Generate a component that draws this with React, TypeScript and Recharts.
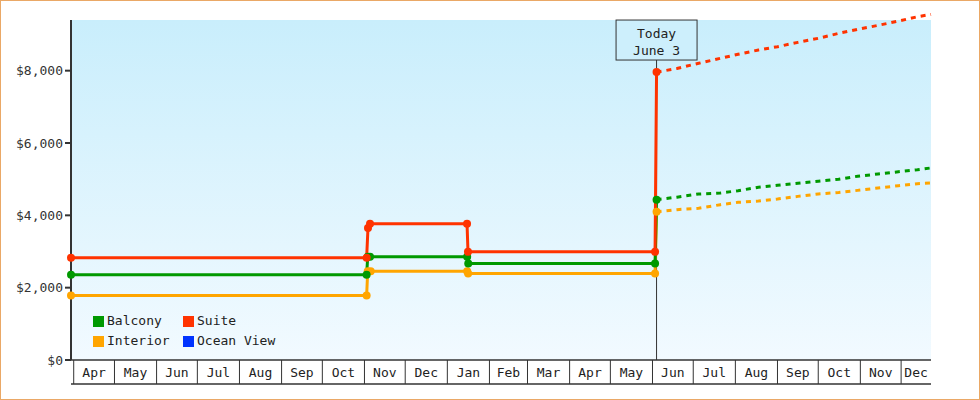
import React from 'react';
import { LineChart, Line, XAxis, YAxis, ReferenceLine, ReferenceArea, Legend } from 'recharts';

// ---- categories / axis data ----
const monthLabels = ['Apr', 'May', 'Jun', 'Jul', 'Aug', 'Sep', 'Oct', 'Nov', 'Dec', 'Jan', 'Feb', 'Mar', 'Apr', 'May', 'Jun', 'Jul', 'Aug', 'Sep', 'Oct', 'Nov', 'Dec'];
// day offsets (from Apr 1 of first year) at which each month starts
const monthStartDays = [0, 30, 61, 91, 122, 153, 183, 214, 244, 275, 306, 334, 365, 395, 426, 456, 487, 518, 548, 579, 609];
const axisStartDay = -2;
const axisEndDay = 631;
const todayDay = 429;
const todayText = ['Today', 'June 3'];
const yTicks = [0, 2000, 4000, 6000, 8000];
const plotTopValue = 9400; // top of shaded plot box
const yDomainMax = 9600; // room above the box for the projected suite line

// ---- historical prices (solid) ----
const balconyDays = [-2, 215.6, 216.4, 218.1, 289.6, 290.4, 427.9, 429];
const balconyPrices = [2355, 2355, 2852, 2852, 2852, 2665, 2665, 4433];
const interiorDays = [-2, 215.6, 216.4, 218.6, 289.6, 290.3, 427.9, 429];
const interiorPrices = [1785, 1785, 2455, 2455, 2455, 2392, 2390, 4100];
const suiteDays = [-2, 215.6, 216.6, 218.1, 289.5, 290.2, 427.9, 429];
const suitePrices = [2825, 2825, 3650, 3770, 3770, 2990, 2990, 7960];

// ---- projected prices (dashed) ----
const projDays = [429, 444, 460, 476, 489, 504, 518, 533, 548, 563, 577, 592, 607, 621, 631];
const suiteProj = [7960, 8060, 8204, 8342, 8452, 8571, 8662, 8783, 8894, 9031, 9142, 9252, 9371, 9490, 9556];
const balconyProj = [4433, 4502, 4590, 4618, 4680, 4778, 4833, 4888, 4943, 4998, 5081, 5142, 5205, 5261, 5310];
const interiorProj = [4100, 4157, 4195, 4295, 4359, 4397, 4452, 4524, 4590, 4634, 4690, 4756, 4819, 4874, 4893];

// ---- series styling ----
const COLORS = {
  balcony: '#009900',
  interior: '#ffa500',
  suite: '#ff3300',
  oceanView: '#0033ff',
};
const legendOrder = ['Balcony', 'Suite', 'Interior', 'Ocean View'];
const MONO = '"DejaVu Sans Mono", "Liberation Mono", monospace';

const tables: [string, number[], number[]][] = [
  ['balcony', balconyDays, balconyPrices],
  ['interior', interiorDays, interiorPrices],
  ['suite', suiteDays, suitePrices],
  ['suiteProj', projDays, suiteProj],
  ['balconyProj', projDays, balconyProj],
  ['interiorProj', projDays, interiorProj],
];
const rowMap = new Map<number, any>();
tables.forEach(([key, days, vals]) => {
  days.forEach((d, i) => {
    const r = rowMap.get(d) ?? { day: d };
    r[key] = vals[i];
    rowMap.set(d, r);
  });
});
const chartData = Array.from(rowMap.values()).sort((a, b) => a.day - b.day);

const monthBounds = [...monthStartDays, axisEndDay];
const monthMidDays = monthStartDays.map((d, i) => (d + monthBounds[i + 1]) / 2);

const fmtMoney = (v: number) => '$' + v.toLocaleString('en-US');

const MonthLabelTick = (props: any) => {
  const { x, y, payload } = props;
  const idx = monthMidDays.indexOf(payload.value);
  return (
    <text x={x} y={y - 7} textAnchor="middle" fill="#222" fontSize={13} fontFamily={MONO}>
      {monthLabels[idx] ?? ''}
    </text>
  );
};

const EmptyTick = () => <g />;

const TodayLabel = (props: any) => {
  const vb = props.viewBox || {};
  const cx = vb.x;
  const top = vb.y;
  return (
    <g>
      <rect x={cx - 40.5} y={top} width={81} height={40} fill="#cdeffc" stroke="#333" strokeWidth={1} />
      <text x={cx} y={top + 17.5} textAnchor="middle" fill="#222" fontSize={13} fontFamily={MONO}>
        {todayText[0]}
      </text>
      <text x={cx} y={top + 34.5} textAnchor="middle" fill="#222" fontSize={13} fontFamily={MONO}>
        {todayText[1]}
      </text>
    </g>
  );
};

const LegendContent = (props: any) => {
  const items = (props.payload || [])
    .filter((a: any) => legendOrder.includes(a.value))
    .sort((a: any, b: any) => legendOrder.indexOf(a.value) - legendOrder.indexOf(b.value));
  return (
    <div style={{ display: 'grid', gridTemplateColumns: '90px 120px' }}>
      {items.map((it: any) => (
        <div key={it.value} style={{ display: 'flex', alignItems: 'center', height: 20 }}>
          <span style={{ display: 'inline-block', width: 11, height: 11, background: it.color, marginRight: 3 }} />
          <span style={{ fontFamily: MONO, fontSize: 13, color: '#222', lineHeight: '20px', whiteSpace: 'nowrap' }}>{it.value}</span>
        </div>
      ))}
    </div>
  );
};

const dotStyle = (color: string) => ({ r: 4, fill: color, stroke: 'none' });

export default function App() {
  return (
    <div style={{ position: 'absolute', left: 0, top: 0, width: 980, height: 400, background: '#fff' }}>
      <LineChart
        width={980}
        height={400}
        data={chartData}
        margin={{ top: 12.8, right: 49, bottom: 0, left: 0 }}
      >
        <defs>
          <linearGradient id="plotBg" x1="0" y1="0" x2="0" y2="1">
            <stop offset="0%" stopColor="#c9eefc" />
            <stop offset="100%" stopColor="#f2faff" />
          </linearGradient>
        </defs>
        <XAxis
          type="number"
          dataKey="day"
          domain={[axisStartDay, axisEndDay]}
          ticks={monthStartDays}
          interval={0}
          height={24}
          tickSize={24}
          tick={EmptyTick}
          tickLine={{ stroke: '#333', strokeWidth: 1 }}
          axisLine={{ stroke: '#333', strokeWidth: 1.5 }}
        />
        <XAxis
          xAxisId="lbl"
          type="number"
          dataKey="day"
          domain={[axisStartDay, axisEndDay]}
          allowDataOverflow
          ticks={monthMidDays}
          interval={0}
          height={16}
          tickSize={0}
          tickMargin={0}
          tickLine={false}
          tick={MonthLabelTick}
          axisLine={{ stroke: '#333', strokeWidth: 1.5 }}
        />
        <YAxis
          type="number"
          domain={[0, yDomainMax]}
          ticks={yTicks}
          interval={0}
          width={71}
          tickSize={6}
          tickMargin={2}
          axisLine={false}
          tickLine={{ stroke: '#333', strokeWidth: 2 }}
          tickFormatter={fmtMoney}
          tick={{ fill: '#333', fontSize: 13, fontFamily: MONO }}
        />
        <ReferenceArea
          x1={axisStartDay}
          x2={axisEndDay}
          y1={0}
          y2={plotTopValue}
          fill="url(#plotBg)"
          fillOpacity={1}
          stroke="none"
        />
        <ReferenceLine
          segment={[{ x: axisStartDay, y: 0 }, { x: axisStartDay, y: plotTopValue }]}
          stroke="#333"
          strokeWidth={2}
        />
        <ReferenceLine
          segment={[{ x: todayDay, y: 0 }, { x: todayDay, y: plotTopValue }]}
          stroke="#333"
          strokeWidth={1}
          label={(p: any) => <TodayLabel {...p} />}
        />
        <Line dataKey="interiorProj" stroke={COLORS.interior} strokeWidth={3} strokeDasharray="5 5" dot={false} connectNulls legendType="none" isAnimationActive={false} />
        <Line dataKey="balconyProj" stroke={COLORS.balcony} strokeWidth={3} strokeDasharray="5 5" dot={false} connectNulls legendType="none" isAnimationActive={false} />
        <Line dataKey="suiteProj" stroke={COLORS.suite} strokeWidth={3} strokeDasharray="5 5" dot={false} connectNulls legendType="none" isAnimationActive={false} />
        <Line name="Interior" dataKey="interior" stroke={COLORS.interior} strokeWidth={3} dot={dotStyle(COLORS.interior)} connectNulls legendType="square" isAnimationActive={false} />
        <Line name="Balcony" dataKey="balcony" stroke={COLORS.balcony} strokeWidth={3} dot={dotStyle(COLORS.balcony)} connectNulls legendType="square" isAnimationActive={false} />
        <Line name="Suite" dataKey="suite" stroke={COLORS.suite} strokeWidth={3} dot={dotStyle(COLORS.suite)} connectNulls legendType="square" isAnimationActive={false} />
        <Line name="Ocean View" dataKey="oceanView" stroke={COLORS.oceanView} strokeWidth={3} dot={false} connectNulls legendType="square" isAnimationActive={false} />
        <Legend
          layout="horizontal"
          verticalAlign="middle"
          align="center"
          content={LegendContent}
          wrapperStyle={{ left: 93, top: 311, width: 220, height: 40 }}
        />
      </LineChart>
      <div
        style={{
          position: 'absolute',
          left: 0,
          top: 0,
          width: 980,
          height: 400,
          boxSizing: 'border-box',
          border: '1px solid #eaa866',
          pointerEvents: 'none',
        }}
      />
    </div>
  );
}
